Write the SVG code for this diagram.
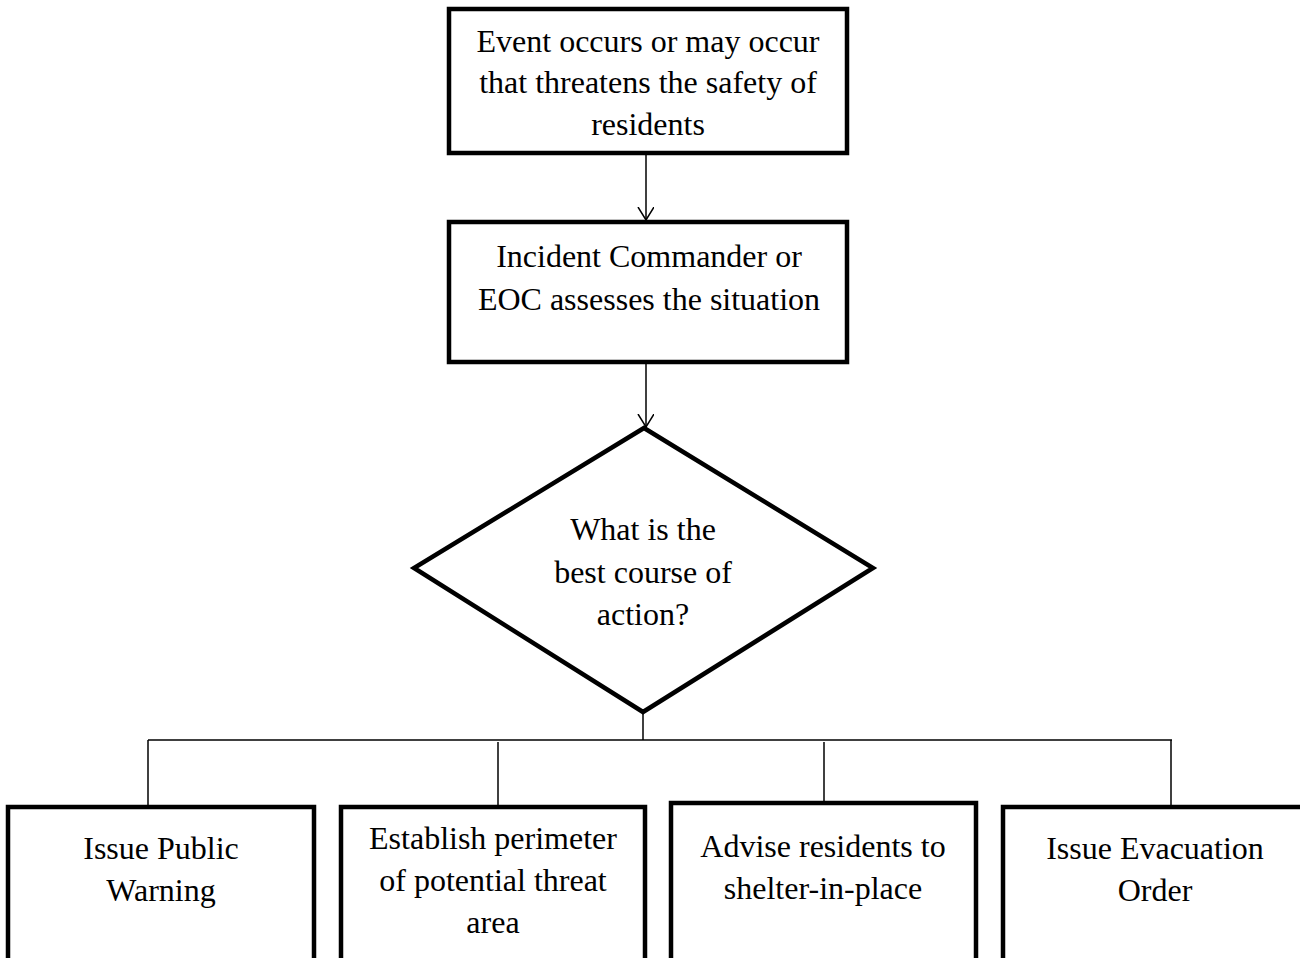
<svg xmlns="http://www.w3.org/2000/svg" width="1300" height="958" viewBox="0 0 1300 958">
  <defs>
    <marker id="openArrow" markerWidth="14" markerHeight="18" refX="13" refY="8" orient="auto" markerUnits="userSpaceOnUse">
      <path d="M0,0 L13,8 L0,16" fill="none" stroke="#000" stroke-width="1.5"/>
    </marker>
  </defs>
  <style>
    .box { fill: #fff; stroke: #000; stroke-width: 4.5; }
    .lbl { font-family: "Liberation Serif", "Times New Roman", serif; font-size: 32px; fill: #000; text-anchor: middle; }
    .link { fill: none; stroke: #000; stroke-width: 1.5; }
  </style>
  <rect width="1300" height="958" fill="#fff"/>

  <!-- connectors -->
  <g id="connectors">
    <line class="link" x1="646" y1="154" x2="646" y2="220" marker-end="url(#openArrow)"/>
    <line class="link" x1="646" y1="363" x2="646" y2="427" marker-end="url(#openArrow)"/>
    <line class="link" x1="643" y1="712" x2="643" y2="740"/>
    <line class="link" x1="148" y1="740" x2="1172" y2="740"/>
    <line class="link" x1="148" y1="740" x2="148" y2="805"/>
    <line class="link" x1="498" y1="742" x2="498" y2="805"/>
    <line class="link" x1="824" y1="742" x2="824" y2="802"/>
    <line class="link" x1="1171" y1="740" x2="1171" y2="805"/>
  </g>

  <g id="event">
    <rect class="box" x="449" y="9" width="398" height="144"/>
    <text class="lbl" x="648" y="52">Event occurs or may occur</text>
    <text class="lbl" x="648" y="93">that threatens the safety of</text>
    <text class="lbl" x="648" y="135">residents</text>
  </g>

  <g id="assess">
    <rect class="box" x="449" y="222" width="398" height="140"/>
    <text class="lbl" x="649" y="267">Incident Commander or</text>
    <text class="lbl" x="649" y="310">EOC assesses the situation</text>
  </g>

  <g id="decision">
    <polygon class="box" points="644,428 873,568 643,712 414,568"/>
    <text class="lbl" x="643" y="540">What is the</text>
    <text class="lbl" x="643" y="583">best course of</text>
    <text class="lbl" x="643" y="625">action?</text>
  </g>

  <g id="warning">
    <rect class="box" x="8" y="807" width="306" height="160"/>
    <text class="lbl" x="161" y="859">Issue Public</text>
    <text class="lbl" x="161" y="901">Warning</text>
  </g>

  <g id="perimeter">
    <rect class="box" x="341" y="807" width="304" height="160"/>
    <text class="lbl" x="493" y="849">Establish perimeter</text>
    <text class="lbl" x="493" y="891">of potential threat</text>
    <text class="lbl" x="493" y="933">area</text>
  </g>

  <g id="shelter">
    <rect class="box" x="671" y="803" width="305" height="164"/>
    <text class="lbl" x="823" y="857">Advise residents to</text>
    <text class="lbl" x="823" y="899">shelter-in-place</text>
  </g>

  <g id="evacuate">
    <rect class="box" x="1003" y="807" width="306" height="160"/>
    <text class="lbl" x="1155" y="859">Issue Evacuation</text>
    <text class="lbl" x="1155" y="901">Order</text>
  </g>
</svg>
